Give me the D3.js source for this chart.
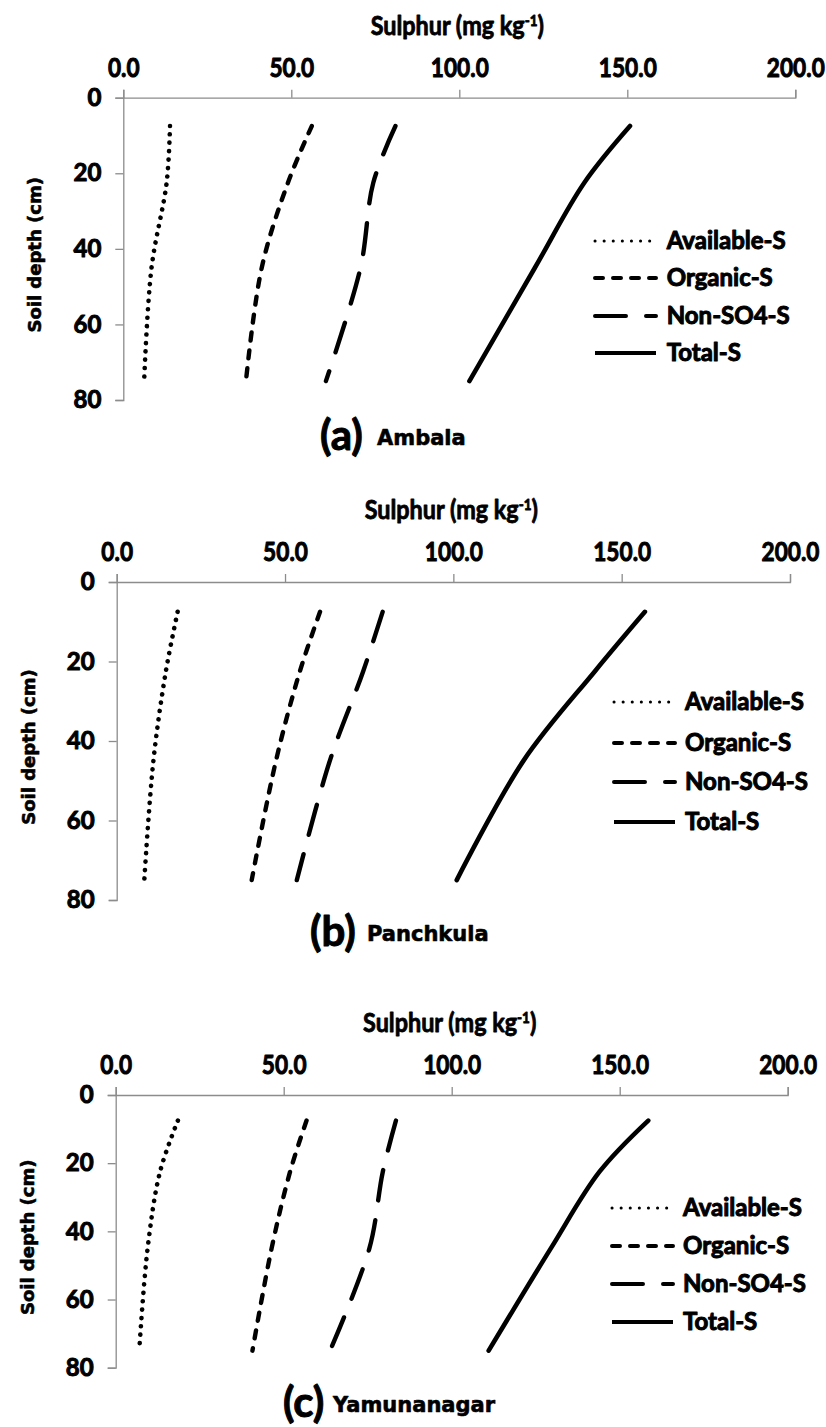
<!DOCTYPE html>
<html>
<head>
<meta charset="utf-8">
<script src="https://cdn.jsdelivr.net/npm/d3@7"></script>
<style>
  html, body { margin: 0; padding: 0; background: #fff; }
  svg { display: block; }
</style>
</head>
<body>
<svg id="chart" width="826" height="1427"></svg>
<script>
// ---------------- DATA ----------------
const depths = [7.5, 22.5, 45, 75];               // soil depth mid-points (cm)
const seriesNames = ["Available-S", "Organic-S", "Non-SO4-S", "Total-S"];
const xTicks = [0, 50, 100, 150, 200];
const yTicks = [0, 20, 40, 60, 80];
const panelLetters = ["(a)", "(b)", "(c)"];
const districts = ["Ambala", "Panchkula", "Yamunanagar"];

const ambalaAvailableS = [13.9, 12.9, 8.4, 6.2];
const ambalaOrganicS   = [56.1, 49.0, 41.2, 36.5];
const ambalaNonSO4S    = [81.0, 74.4, 70.6, 60.3];
const ambalaTotalS     = [150.8, 137.2, 122.5, 103.0];

const panchkulaAvailableS = [18.1, 14.6, 10.9, 8.2];
const panchkulaOrganicS   = [60.4, 54.4, 47.3, 40.1];
const panchkulaNonSO4S    = [79.0, 73.2, 63.3, 53.5];
const panchkulaTotalS     = [156.9, 142.0, 120.8, 101.0];

const yamunanagarAvailableS = [18.5, 13.2, 9.5, 7.0];
const yamunanagarOrganicS   = [56.8, 51.9, 46.4, 40.7];
const yamunanagarNonSO4S    = [83.4, 79.5, 75.5, 63.8];
const yamunanagarTotalS     = [158.5, 144.0, 129.5, 111.0];

const panelSeries = [
  [ambalaAvailableS, ambalaOrganicS, ambalaNonSO4S, ambalaTotalS],
  [panchkulaAvailableS, panchkulaOrganicS, panchkulaNonSO4S, panchkulaTotalS],
  [yamunanagarAvailableS, yamunanagarOrganicS, yamunanagarNonSO4S, yamunanagarTotalS]
];

// ---------------- LAYOUT / STYLE ----------------
const layouts = [
  { x0: 123.3, x1: 795.3, y0: 97.7, y1: 400, legLine: 594, legText: 666.7, legRows: [241, 278, 316, 353],
    capY: 437, letterX: 320, nameX: 377 },
  { x0: 116.7, x1: 790, y0: 582, y1: 900, legLine: 613, legText: 685, legRows: [702, 743, 782, 822],
    capY: 933, letterX: 310, nameX: 367 },
  { x0: 115.7, x1: 787.7, y0: 1095, y1: 1367.7, legLine: 611, legText: 683, legRows: [1208, 1246, 1284, 1322],
    capY: 1404, letterX: 283, nameX: 333 }
];

const styles = [
  { w: 4.6, dash: "0.1 8.3", legW: 3.0, legDash: "0.1 9" },
  { w: 4.4, dash: "8 10", legW: 4.0, legDash: "8 10" },
  { w: 4.4, dash: "31 20", legW: 4.0, legDash: "31 20" },
  { w: 4.6, dash: null, legW: 4.0, legDash: null }
];

const calFont = "'Lato', 'Open Sans', 'Liberation Sans', sans-serif";
const wideFont = "'DejaVu Sans', 'Verdana', sans-serif";
const axisGrey = "#8c8c8c";

// heavy text helper: bold + thin outline to mimic the heavy rendering
function heavy(sel, w) {
  return sel.attr("fill", "#000").attr("stroke", "#000").attr("stroke-width", w)
    .attr("stroke-linejoin", "round").style("font-weight", "bold");
}

const svg = d3.select("#chart");

layouts.forEach((L, pi) => {
  const g = svg.append("g");
  const x = d3.scaleLinear().domain([0, 200]).range([L.x0, L.x1]);
  const y = d3.scaleLinear().domain([0, 80]).range([L.y0, L.y1]);

  // x axis (top)
  const xa = g.append("g").attr("transform", `translate(0,${L.y0})`)
    .call(d3.axisTop(x).tickValues(xTicks).tickSize(8).tickPadding(0).tickFormat(d3.format(".1f")));
  xa.select(".domain").attr("stroke", axisGrey).attr("stroke-width", 1.3);
  xa.selectAll(".tick line").attr("stroke", axisGrey).attr("stroke-width", 1.3);
  xa.selectAll(".tick text")
    .attr("y", null).attr("dy", null)
    .attr("transform", "translate(0,-21) scale(0.84,1)")
    .style("font-family", calFont).style("font-size", "27px");
  heavy(xa.selectAll(".tick text"), 1.0);

  // y axis (left)
  const ya = g.append("g").attr("transform", `translate(${L.x0},0)`)
    .call(d3.axisLeft(y).tickValues(yTicks).tickSize(8).tickPadding(14).tickFormat(d3.format("d")));
  ya.select(".domain").attr("stroke", axisGrey).attr("stroke-width", 1.3);
  ya.selectAll(".tick line").attr("stroke", axisGrey).attr("stroke-width", 1.3);
  ya.selectAll(".tick text").style("font-family", calFont).style("font-size", "24px");
  heavy(ya.selectAll(".tick text"), 1.0);

  // x axis title
  const t = g.append("text")
    .attr("transform", `translate(${(L.x0 + L.x1) / 2 - 2},${L.y0 - 63}) scale(0.9,1)`)
    .attr("text-anchor", "middle")
    .style("font-family", calFont).style("font-size", "26px");
  heavy(t, 0.8);
  t.append("tspan").text("Sulphur (mg kg");
  t.append("tspan").attr("dy", -9).style("font-size", "15px").text("-1");
  t.append("tspan").attr("dy", 9).text(")");

  // y axis title
  const yt = g.append("text")
    .attr("transform", `translate(${L.x0 - 82},${(L.y0 + L.y1) / 2 + 6}) rotate(-90)`)
    .attr("text-anchor", "middle")
    .style("font-family", wideFont).style("font-size", "18px")
    .text("Soil depth (cm)");
  heavy(yt, 0.6);

  // series lines
  const line = d3.line()
    .x(d => x(d.v)).y(d => y(d.d))
    .curve(d3.curveCatmullRom.alpha(0.5));

  panelSeries[pi].forEach((vals, si) => {
    const pts = vals.map((v, i) => ({ v: v, d: depths[i] }));
    const st = styles[si];
    const p = g.append("path").datum(pts)
      .attr("d", line)
      .attr("fill", "none").attr("stroke", "#000")
      .attr("stroke-width", st.w)
      .attr("stroke-linecap", "round").attr("stroke-linejoin", "round");
    if (st.dash) p.attr("stroke-dasharray", st.dash);
  });

  // legend
  seriesNames.forEach((name, si) => {
    const st = styles[si];
    const ry = L.legRows[si];
    const ln = g.append("line")
      .attr("x1", L.legLine + 1).attr("x2", L.legLine + 62)
      .attr("y1", ry).attr("y2", ry)
      .attr("stroke", "#000").attr("stroke-width", st.legW)
      .attr("stroke-linecap", si === 3 ? "butt" : "round");
    if (st.legDash) ln.attr("stroke-dasharray", st.legDash);
    const tx = g.append("text")
      .attr("x", L.legText).attr("y", ry + 8)
      .style("font-family", calFont).style("font-size", "24px")
      .text(name);
    heavy(tx, 1.0);
  });

  // caption
  const lt = g.append("text")
    .attr("x", L.letterX).attr("y", L.capY + 13)
    .style("font-family", calFont).style("font-size", "42px")
    .text(panelLetters[pi]);
  heavy(lt, 1.0);
  const nt = g.append("text")
    .attr("x", L.nameX).attr("y", L.capY + 8)
    .style("font-family", wideFont).style("font-size", "21px")
    .text(districts[pi]);
  heavy(nt, 0.6);
});
</script>
</body>
</html>
